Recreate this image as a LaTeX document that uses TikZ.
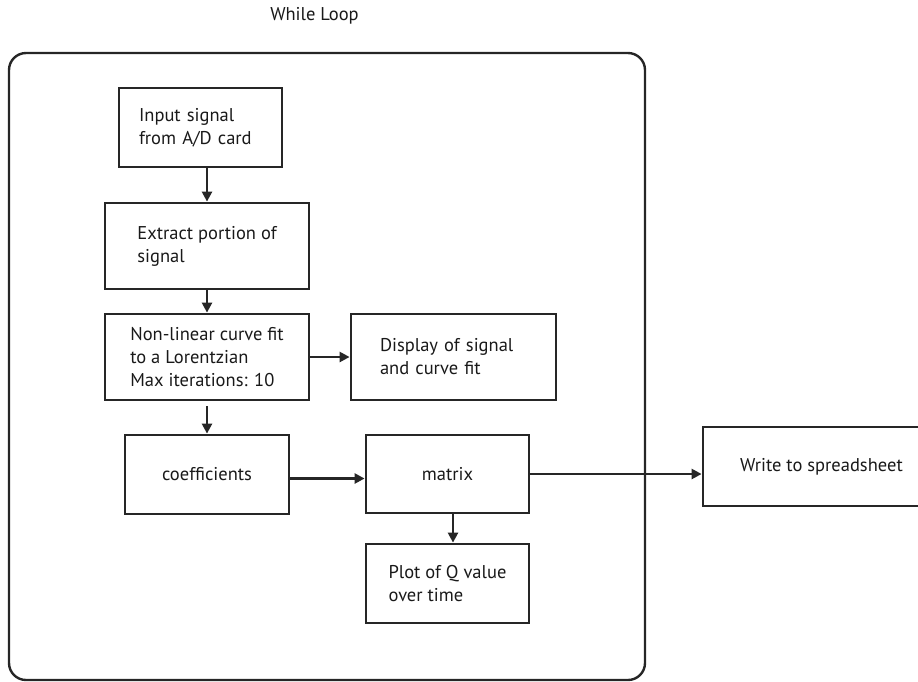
\documentclass[tikz,border=0pt]{standalone}
\usepackage{fontspec}
\setmainfont{PT Sans}
\usepackage{tikz}
\usetikzlibrary{arrows.meta, positioning, calc}

\begin{document}
\begin{tikzpicture}[
  x=1pt, y=-1pt,
  every node/.style={font=\fontsize{18.5}{23}\selectfont, text=black!90},
  blk/.style={draw=black!85, line width=2.8pt, align=left, inner sep=0pt},
  arr/.style={-{Triangle[length=10pt, width=10pt]}, line width=2.4pt, color=black!85}
]
  \useasboundingbox (0,0) rectangle (918,681);
  \clip (0,0) rectangle (918,681);

  \node (title) at (314.5,16) {While Loop};
  \node (loop) [draw=black!85, line width=2.4pt, rounded corners=17pt,
                minimum width=636pt, minimum height=627pt] at (327,366.5) {};

  \node (in)   [blk, minimum width=163pt, minimum height=79pt, text width=123pt]
               at (200.5,127.5) {Input signal\\from A/D card};
  \node (ext)  [blk, minimum width=204pt, minimum height=86pt] at (207,246)
               {Extract portion of\\signal};
  \node (fit)  [blk, minimum width=204pt, minimum height=86pt] at (207,357)
               {Non-linear curve fit\\to a Lorentzian\\Max iterations: 10};
  \node (disp) [blk, minimum width=205pt, minimum height=86pt, text width=147pt]
               at (453.5,357) {Display of signal\\and curve fit};
  \node (coef) [blk, minimum width=164pt, minimum height=79pt] at (207,474.5)
               {coefficients};
  \node (mat)  [blk, minimum width=163pt, minimum height=78pt] at (447.5,474)
               {matrix};
  \node (plot) [blk, minimum width=163pt, minimum height=79pt] at (447.5,583.5)
               {Plot of Q value\\over time};
  \node (wr)   [blk, minimum width=237pt, minimum height=79pt] at (821.5,466.5)
               {Write to spreadsheet};

  \draw[arr] (in.south -| ext.north) -- (ext.north);
  \draw[arr] (ext) -- (fit);
  \draw[arr] (fit) -- (disp);
  \draw[arr] ([yshift=-5pt]fit.south) -- (coef.north);
  \draw[arr] ([yshift=-4pt]coef.east) -- ([yshift=-4pt]coef.east -| mat.west);
  \draw[arr] ([xshift=5.5pt]mat.south) -- ([xshift=5.5pt]mat.south |- plot.north);
  \draw[arr] (mat.east) -- (mat.east -| wr.west);
\end{tikzpicture}
\end{document}
